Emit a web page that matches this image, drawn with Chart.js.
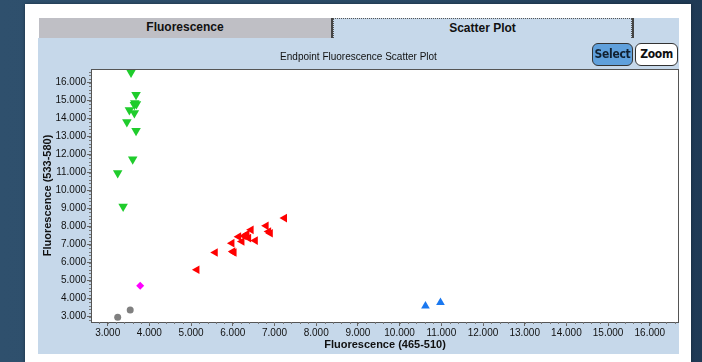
<!DOCTYPE html>
<html>
<head>
<meta charset="utf-8">
<script src="https://cdn.jsdelivr.net/npm/chart.js@4/dist/chart.umd.min.js"></script>
<style>
  html, body { margin: 0; padding: 0; }
  body { width: 702px; height: 362px; overflow: hidden; position: relative;
         background: linear-gradient(90deg, #2f506d 0%, #2a4a66 60%, #1f3a55 100%);
         font-family: "Liberation Sans", Arial, sans-serif; }
  #panel { position: absolute; left: 25px; top: 4px; width: 666px; height: 360px; background: #fff;
           box-shadow: 0 0 3px rgba(0,0,0,0.4); }
  .tab { position: absolute; top: 18px; height: 20px; line-height: 18px; text-align: center;
         font-weight: bold; font-size: 12px; color: #111; box-sizing: border-box; }
  #tab1 { left: 39px; width: 294px; background: #bfbfc5; border-right: 2px solid #444; }
  #tab2 { left: 333px; width: 299px; background: #c6d8ea; border: 1px dotted #555; border-bottom: none; }
  #tab3 { left: 632px; width: 47px; background: #c6d8ea; border-left: 2px solid #444; }
  #area { position: absolute; left: 38px; top: 38px; width: 641px; height: 316px; background: #c6d8ea; }
  #chartwrap { position: absolute; left: 38px; top: 38px; width: 641px; height: 316px; }
  .btn { position: absolute; top: 43px; height: 23px; line-height: 20px; box-sizing: border-box;
         border: 1.5px solid #333; border-radius: 6px; font-weight: bold; text-align: center;
         font-family: "DejaVu Sans Condensed", "Liberation Sans", sans-serif; font-size: 12px;
         letter-spacing: -0.3px; }
  #bsel { left: 592px; width: 41px; background: #5fa0dc; color: #102030; }
  #bzoom { left: 635px; width: 43px; background: #fff; color: #111; }
</style>
</head>
<body>
<div id="panel"></div>
<div class="tab" id="tab1">Fluorescence</div>
<div class="tab" id="tab2">Scatter Plot</div>
<div class="tab" id="tab3"></div>
<div id="area"></div>
<div id="chartwrap"><canvas id="c" width="641" height="316"></canvas></div>
<div class="btn" id="bsel">Select</div>
<div class="btn" id="bzoom">Zoom</div>
<script>
// Data (Fluorescence 465-510 on x, 533-580 on y)
const greenX = [3560, 3680, 3650, 3640, 3690, 3520, 3640, 3460, 3680, 3600, 3240, 3370];
const greenY = [16550, 15320, 14860, 14760, 14800, 14480, 14300, 13800, 13320, 11740, 10970, 9110];
const redX = [5140, 5580, 5980, 6000, 6030, 6140, 6220, 6270, 6340, 6440, 6380, 6540, 6800, 6860, 6900, 7240];
const redY = [5600, 6560, 7080, 6610, 6560, 7440, 7170, 7480, 7580, 7820, 7360, 7220, 8040, 7720, 7630, 8470];
const blueX = [10620, 10980];
const blueY = [3590, 3780];
const grayX = [3240, 3540];
const grayY = [2970, 3370];
const magentaX = [3780];
const magentaY = [4710];
const xTickValues = [3000, 4000, 5000, 6000, 7000, 8000, 9000, 10000, 11000, 12000, 13000, 14000, 15000, 16000];
const yTickValues = [3000, 4000, 5000, 6000, 7000, 8000, 9000, 10000, 11000, 12000, 13000, 14000, 15000, 16000];
const titleText = "Endpoint Fluorescence Scatter Plot";
const xTitle = "Fluorescence (465-510)";
const yTitle = "Fluorescence (533-580)";

function pts(xs, ys) { return xs.map((x, i) => ({ x: x, y: ys[i] })); }
function fmt(v) { return String(v).replace(/\B(?=(\d{3})+(?!\d))/g, '.'); }

const plotFrame = {
  id: 'plotFrame',
  beforeDraw(chart) {
    const a = chart.chartArea, ctx = chart.ctx;
    ctx.save(); ctx.fillStyle = '#ffffff';
    ctx.fillRect(a.left, a.top, a.right - a.left, a.bottom - a.top);
    ctx.restore();
  },
  afterDraw(chart) {
    const a = chart.chartArea, ctx = chart.ctx;
    ctx.save();
    ctx.strokeStyle = '#555'; ctx.lineWidth = 1;
    ctx.strokeRect(a.left + 0.5, a.top + 0.5, a.right - a.left - 1, a.bottom - a.top);
    // minor ticks
    const xs = chart.scales.x, ys = chart.scales.y;
    ctx.strokeStyle = '#777';
    ctx.beginPath();
    for (let v = 2800; v <= xs.max; v += 200) {
      if (v < xs.min) continue;
      const p = Math.round(xs.getPixelForValue(v)) + 0.5;
      ctx.moveTo(p, a.bottom); ctx.lineTo(p, a.bottom + 2);
    }
    for (let v = 2800; v <= ys.max; v += 200) {
      if (v < ys.min) continue;
      const p = Math.round(ys.getPixelForValue(v)) + 0.5;
      ctx.moveTo(a.left, p); ctx.lineTo(a.left - 2, p);
    }
    ctx.stroke();
    ctx.restore();
  }
};

const tickFont = { family: '"Liberation Sans", Arial, sans-serif', size: 10 };

new Chart(document.getElementById('c'), {
  type: 'scatter',
  data: {
    datasets: [
      { data: pts(greenX, greenY), pointStyle: 'triangle', rotation: 180, radius: 5.5,
        backgroundColor: '#1fcc2c', borderColor: '#1fcc2c', borderWidth: 0 },
      { data: pts(redX, redY), pointStyle: 'triangle', rotation: -90, radius: 5,
        backgroundColor: '#ff0000', borderColor: '#ff0000', borderWidth: 0 },
      { data: pts(blueX, blueY), pointStyle: 'triangle', rotation: 0, radius: 5,
        backgroundColor: '#1a78f0', borderColor: '#1a78f0', borderWidth: 0 },
      { data: pts(grayX, grayY), pointStyle: 'circle', radius: 3.5,
        backgroundColor: '#808080', borderColor: '#808080', borderWidth: 0 },
      { data: pts(magentaX, magentaY), pointStyle: 'rectRot', radius: 4,
        backgroundColor: '#ff00ff', borderColor: '#ff00ff', borderWidth: 0 }
    ]
  },
  options: {
    responsive: false,
    animation: false,
    clip: false,
    layout: { autoPadding: false, padding: { left: 0, right: 0, top: 0, bottom: 0 } },
    plugins: {
      legend: { display: false },
      tooltip: { enabled: false },
      title: { display: true, text: titleText, color: '#111',
               font: { family: '"Liberation Sans", Arial, sans-serif', size: 10, weight: 'normal' },
               padding: { top: 13, bottom: 6 } }
    },
    scales: {
      x: {
        type: 'linear', min: 2600, max: 16700,
        afterFit(s) { s.height = 32; s.paddingLeft = 0; s.paddingRight = 0; },
        afterBuildTicks(s) { s.ticks = xTickValues.map(v => ({ value: v })); },
        ticks: { callback: v => fmt(v), color: '#111', font: tickFont, padding: 1, maxRotation: 0, autoSkip: false },
        grid: { display: true, drawOnChartArea: false, drawTicks: true, tickLength: 4, color: '#666' },
        border: { display: true, color: '#555' },
        title: { display: true, text: xTitle, color: '#111',
                 font: { family: '"Liberation Sans", Arial, sans-serif', size: 11, weight: 'bold' },
                 padding: { top: 0, bottom: 2 } }
      },
      y: {
        type: 'linear', min: 2700, max: 16750,
        afterFit(s) { s.width = 53; s.paddingTop = 0; s.paddingBottom = 0; },
        afterBuildTicks(s) { s.ticks = yTickValues.map(v => ({ value: v })); },
        ticks: { callback: v => fmt(v), color: '#111', font: tickFont, padding: 1, autoSkip: false },
        grid: { display: true, drawOnChartArea: false, drawTicks: true, tickLength: 4, color: '#666' },
        border: { display: true, color: '#555' },
        title: { display: true, text: yTitle, color: '#111',
                 font: { family: '"Liberation Sans", Arial, sans-serif', size: 11, weight: 'bold' },
                 padding: { top: 3, bottom: 0 } }
      }
    }
  },
  plugins: [plotFrame]
});
</script>
</body>
</html>
